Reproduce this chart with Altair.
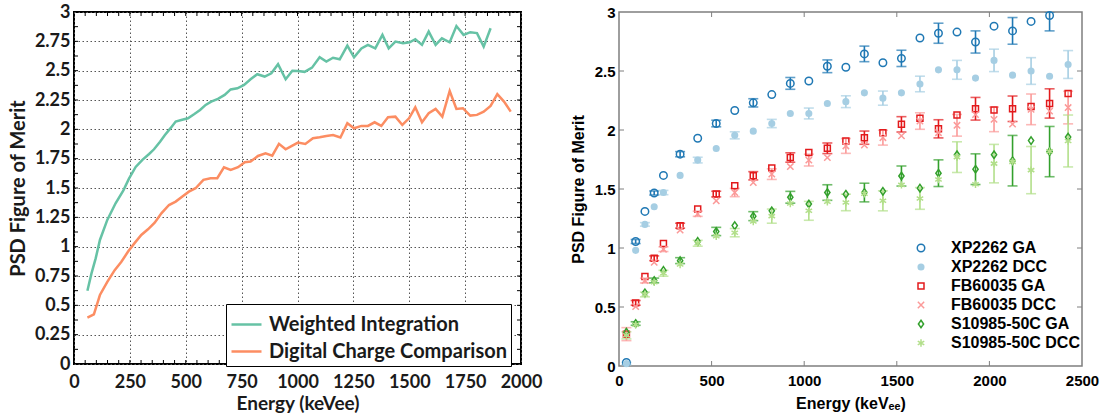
import altair as alt
import pandas as pd
import numpy as np

# ---------------- Left panel data ----------------
wi_energy = [60, 78, 97, 116, 149, 186, 221, 246, 276, 306, 336, 358, 385, 406, 432, 455, 480, 510, 537, 564,
             589, 614, 644, 674, 701, 731, 761, 790, 820, 853, 883, 913, 947, 977, 1002, 1032, 1065, 1099, 1129,
             1159, 1189, 1223, 1253, 1286, 1315, 1348, 1380, 1408, 1438, 1472, 1502, 1527, 1557, 1587, 1618, 1646,
             1681, 1711, 1743, 1773, 1803, 1833, 1864]
wi_fom = [0.625, 0.77, 0.90, 1.057, 1.228, 1.37, 1.48, 1.58, 1.68, 1.74, 1.79, 1.83, 1.895, 1.95, 2.01, 2.066,
          2.08, 2.094, 2.128, 2.165, 2.208, 2.236, 2.26, 2.293, 2.34, 2.35, 2.378, 2.427, 2.47, 2.45, 2.478, 2.555,
          2.427, 2.50, 2.498, 2.49, 2.526, 2.614, 2.577, 2.61, 2.597, 2.714, 2.614, 2.69, 2.72, 2.69, 2.805, 2.69,
          2.748, 2.734, 2.742, 2.768, 2.72, 2.833, 2.72, 2.776, 2.742, 2.88, 2.805, 2.828, 2.82, 2.705, 2.862]
dcc_energy = [60, 89, 116, 149, 182, 212, 242, 271, 301, 331, 361, 391, 425, 455, 485, 514, 544, 579, 611, 641,
              671, 701, 734, 764, 790, 823, 857, 887, 917, 947, 977, 1002, 1035, 1069, 1099, 1129, 1159, 1192, 1223,
              1253, 1286, 1315, 1345, 1375, 1405, 1438, 1469, 1499, 1527, 1557, 1587, 1618, 1648, 1681, 1711, 1740,
              1773, 1803, 1833, 1864, 1894, 1924, 1954]
dcc_fom = [0.395, 0.423, 0.588, 0.70, 0.80, 0.872, 0.958, 1.03, 1.10, 1.148, 1.205, 1.284, 1.355, 1.384, 1.427,
           1.469, 1.498, 1.569, 1.583, 1.583, 1.677, 1.654, 1.677, 1.72, 1.725, 1.773, 1.796, 1.776, 1.876, 1.83,
           1.861, 1.887, 1.876, 1.924, 1.932, 1.944, 1.952, 1.93, 2.052, 2.009, 2.029, 2.029, 2.06, 2.029, 2.103,
           2.108, 2.037, 2.094, 2.188, 2.06, 2.137, 2.174, 2.108, 2.327, 2.174, 2.18, 2.117, 2.123, 2.151, 2.20,
           2.30, 2.236, 2.151]
left_methods = ["Weighted Integration", "Digital Charge Comparison"]
left_colors = ["#66c2a5", "#fc8d62"]
left_xticks = [0, 250, 500, 750, 1000, 1250, 1500, 1750, 2000]
left_yticks = [0, 0.25, 0.5, 0.75, 1, 1.25, 1.5, 1.75, 2, 2.25, 2.5, 2.75, 3]

# ---------------- Right panel data ----------------
E = [40, 90, 140, 190, 240, 330, 425, 525, 625, 725, 825, 925, 1025, 1125, 1225, 1325, 1425, 1525, 1625, 1725,
     1825, 1925, 2025, 2125, 2225, 2325, 2425]
xp_ga = [0.03, 1.055, 1.31, 1.466, 1.615, 1.795, 1.93, 2.055, 2.165, 2.23, 2.30, 2.395, 2.415, 2.54, 2.532, 2.645,
         2.57, 2.607, 2.78, 2.82, 2.83, 2.746, 2.88, 2.84, 2.92, 2.97, None]
xp_ga_err = [None, 0.017, None, 0.017, None, 0.022, None, 0.028, None, 0.035, None, 0.05, None, 0.054, None, 0.066,
             None, 0.069, None, 0.085, None, 0.094, None, 0.113, None, 0.13, None]
xp_dcc = [0.02, 0.98, 1.20, 1.35, 1.47, 1.615, 1.745, 1.843, 1.955, 1.99, 2.055, 2.14, 2.14, 2.225, 2.24, 2.315,
          2.27, 2.315, 2.39, 2.51, 2.51, 2.44, 2.59, 2.465, 2.50, 2.456, 2.555]
xp_dcc_err = [0.01, None, 0.015, None, 0.018, None, 0.024, None, 0.03, None, 0.035, None, 0.046, None, 0.05, None,
              0.06, None, 0.066, None, 0.08, None, 0.095, None, 0.113, None, 0.118]
fb_ga = [0.27, 0.535, 0.758, 0.913, 1.039, 1.189, 1.33, 1.457, 1.527, 1.612, 1.677, 1.767, 1.81, 1.845, 1.907,
         1.935, 1.977, 2.048, 2.10, 2.01, 2.127, 2.18, 2.17, 2.18, 2.20, 2.225, 2.31]
fb_ga_err = [None, 0.02, None, 0.02, None, 0.021, None, 0.024, None, 0.035, None, 0.04, None, 0.045, None, 0.056,
             None, 0.065, None, 0.077, None, 0.096, None, 0.108, None, 0.124, None]
fb_dcc = [0.27, 0.504, 0.724, 0.879, 0.99, 1.152, 1.29, 1.40, 1.47, 1.555, 1.626, 1.69, 1.745, 1.766, 1.865,
          1.873, 1.935, 1.95, 2.076, 1.977, 2.04, 2.13, 2.09, 2.05, 2.175, 2.16, 2.19]
fb_dcc_err = [0.055, None, 0.02, None, 0.02, None, 0.022, None, 0.035, None, 0.045, None, 0.05, None, 0.063, None,
              0.063, None, 0.07, None, 0.092, None, 0.104, None, 0.13, None, 0.138]
s_ga = [0.287, 0.36, 0.62, 0.725, 0.81, 0.893, 1.056, 1.14, 1.19, 1.27, 1.315, 1.43, 1.373, 1.47, 1.456, 1.47,
        1.48, 1.61, 1.507, 1.634, 1.79, 1.668, 1.79, 1.74, 1.91, 1.817, 1.94]
s_ga_err = [None, 0.015, None, 0.02, None, 0.025, None, 0.035, None, 0.038, None, 0.05, None, 0.066, None, 0.079,
            None, 0.085, None, 0.113, None, 0.13, None, 0.214, None, 0.213, None]
s_dcc = [0.26, 0.35, 0.606, 0.71, 0.786, 0.86, 1.04, 1.10, 1.13, 1.225, 1.27, 1.377, 1.315, 1.392, 1.386, 1.46,
         1.40, 1.535, 1.42, 1.58, 1.77, 1.54, 1.715, 1.73, 1.66, 1.82, 1.907]
s_dcc_err = [0.03, None, 0.02, None, 0.025, None, 0.025, None, 0.035, None, 0.06, None, 0.08, None, 0.07, None,
             0.085, None, 0.092, None, 0.13, None, 0.163, None, 0.2, None, 0.22]

series_names = ["XP2262 GA", "XP2262 DCC", "FB60035 GA", "FB60035 DCC", "S10985-50C GA", "S10985-50C DCC"]
series_colors = ["#1f78b4", "#a6cee3", "#e31a1c", "#fb9a99", "#33a02c", "#b2df8a"]
series_fills = ["transparent", "#a6cee3", "transparent", "transparent", "transparent", "transparent"]
series_shapes = [
    "circle",
    "M0.75,0A0.75,0.75 0 1,1 -0.75,0A0.75,0.75 0 1,1 0.75,0Z",
    "M-0.8,-0.8L0.8,-0.8L0.8,0.8L-0.8,0.8Z",
    "M-0.85,-0.85L0.85,0.85M-0.85,0.85L0.85,-0.85",
    "M0,-1L0.7,0L0,1L-0.7,0Z",
    "M0,-1L0,1M-0.87,-0.5L0.87,0.5M-0.87,0.5L0.87,-0.5",
]
right_xticks = [0, 500, 1000, 1500, 2000, 2500]
right_yticks = [0, 0.5, 1, 1.5, 2, 2.5, 3]

# ---------------- Build tables ----------------
ldf = pd.concat([
    pd.DataFrame({"E": wi_energy, "v": wi_fom, "method": left_methods[0]}),
    pd.DataFrame({"E": dcc_energy, "v": dcc_fom, "method": left_methods[1]}),
])

vals = [xp_ga, xp_dcc, fb_ga, fb_dcc, s_ga, s_dcc]
errs = [xp_ga_err, xp_dcc_err, fb_ga_err, fb_dcc_err, s_ga_err, s_dcc_err]
prow, erow = [], []
for name, vv, ee in zip(series_names, vals, errs):
    for e, v, er in zip(E, vv, ee):
        if v is None:
            continue
        prow.append({"E": e, "v": v, "series": name})
        if er is not None:
            erow.append({"E": e, "v": v - er, "v2": min(v + er, 3.0), "series": name})
rdf = pd.DataFrame(prow)
edf = pd.DataFrame(erow)

# ---------------- Left panel ----------------
LW, LH = 447, 352
LFONT = "Lato"
TXT = "#1a1a1a"
xl = alt.X("E:Q", scale=alt.Scale(domain=[0, 2000], nice=False),
           axis=alt.Axis(title="Energy (keVee)", values=left_xticks, format="d", grid=True,
                         gridDash=[1.5, 2.5], gridColor="#555555", gridWidth=1, ticks=False, domain=False,
                         labelFont=LFONT, labelFontWeight="bold", labelFontSize=18, labelColor=TXT,
                         labelPadding=9, titleFont=LFONT, titleFontWeight="bold", titleFontSize=19,
                         titleColor=TXT, titlePadding=3, labelFlush=False))
yl = alt.Y("v:Q", scale=alt.Scale(domain=[0, 3], nice=False),
           axis=alt.Axis(title="PSD Figure of Merit", values=left_yticks, format=".2~f", grid=True,
                         gridDash=[1.5, 2.5], gridColor="#555555", gridWidth=1, ticks=False, domain=False,
                         labelFont=LFONT, labelFontWeight="bold", labelFontSize=18, labelColor=TXT,
                         labelPadding=4, titleFont=LFONT, titleFontWeight="bold", titleFontSize=20,
                         titleColor=TXT, titlePadding=6))

lines = alt.Chart(ldf).mark_line(strokeWidth=2.5).encode(
    x=xl, y=yl,
    color=alt.Color("method:N", scale=alt.Scale(domain=left_methods, range=left_colors),
                    legend=alt.Legend(title=None, orient="none", legendX=152, legendY=292,
                                      strokeColor="black", fillColor="white", padding=4,
                                      symbolType="stroke", symbolSize=900, symbolStrokeWidth=2.5,
                                      labelFont=LFONT, labelFontWeight="bold", labelFontSize=20,
                                      labelColor=TXT, labelOffset=6, rowPadding=-3, labelLimit=400)),
)

lx_minor = pd.DataFrame({"E": np.arange(50, 2000, 50)})
ly_minor = pd.DataFrame({"v": np.arange(0.125, 3.0, 0.125)})
tick_l = [
    alt.Chart(lx_minor).mark_rule(color="black", strokeWidth=1).encode(x=xl, y=alt.value(0), y2=alt.value(4)),
    alt.Chart(lx_minor).mark_rule(color="black", strokeWidth=1).encode(x=xl, y=alt.value(LH), y2=alt.value(LH - 4)),
    alt.Chart(ly_minor).mark_rule(color="black", strokeWidth=1).encode(y=yl, x=alt.value(0), x2=alt.value(4)),
    alt.Chart(ly_minor).mark_rule(color="black", strokeWidth=1).encode(y=yl, x=alt.value(LW), x2=alt.value(LW - 4)),
]
left = alt.layer(*tick_l, lines).properties(
    width=LW, height=LH, view=alt.ViewBackground(stroke="black", strokeWidth=2))

# ---------------- Right panel ----------------
RW, RH = 463, 354
RFONT = "Liberation Sans"
xr = alt.X("E:Q", scale=alt.Scale(domain=[0, 2500], nice=False),
           axis=alt.Axis(title="Energy (keVₑₑ)", values=right_xticks, format="d", grid=False, ticks=False,
                         domain=False, labelFont=RFONT, labelFontWeight="bold", labelFontSize=15,
                         labelColor="black", labelPadding=7, titleFont=RFONT, titleFontWeight="bold",
                         titleFontSize=16, titleColor="black", titlePadding=7, labelFlush=False))
yr = alt.Y("v:Q", scale=alt.Scale(domain=[0, 3], nice=False),
           axis=alt.Axis(title="PSD Figure of Merit", values=right_yticks, format="~g", grid=False, ticks=False,
                         domain=False, labelFont=RFONT, labelFontWeight="bold", labelFontSize=15,
                         labelColor="black", labelPadding=4, titleFont=RFONT, titleFontWeight="bold",
                         titleFontSize=16, titleColor="black", titlePadding=8))

leg = dict(title=None, orient="none", legendX=839, legendY=228, padding=0, labelFont=RFONT,
           labelFontWeight="bold", labelFontSize=16, labelColor="black", labelOffset=22, rowPadding=3,
           symbolStrokeWidth=1.5, symbolSize=56, labelLimit=400)

ebars = alt.Chart(edf).mark_errorbar(ticks={"size": 10}, thickness=1.6, clip=True).encode(
    x=xr, y=yr, y2="v2:Q",
    color=alt.Color("series:N", scale=alt.Scale(domain=series_names, range=series_colors), legend=None),
)
points = alt.Chart(rdf).mark_point(size=56, strokeWidth=1.5, opacity=1).encode(
    x=xr, y=yr,
    shape=alt.Shape("series:N", scale=alt.Scale(domain=series_names, range=series_shapes), legend=alt.Legend(**leg)),
    stroke=alt.Stroke("series:N", scale=alt.Scale(domain=series_names, range=series_colors), legend=alt.Legend(**leg)),
    fill=alt.Fill("series:N", scale=alt.Scale(domain=series_names, range=series_fills), legend=alt.Legend(**leg)),
)

rx_t = pd.DataFrame({"E": [500, 1000, 1500, 2000]})
ry_t = pd.DataFrame({"v": [0.5, 1, 1.5, 2, 2.5]})
GR = "#7f7f7f"
tick_r = [
    alt.Chart(rx_t).mark_rule(color=GR, strokeWidth=1).encode(x=xr, y=alt.value(0), y2=alt.value(5)),
    alt.Chart(rx_t).mark_rule(color=GR, strokeWidth=1).encode(x=xr, y=alt.value(RH), y2=alt.value(RH - 5)),
    alt.Chart(ry_t).mark_rule(color=GR, strokeWidth=1).encode(y=yr, x=alt.value(0), x2=alt.value(5)),
    alt.Chart(ry_t).mark_rule(color=GR, strokeWidth=1).encode(y=yr, x=alt.value(RW), x2=alt.value(RW - 5)),
]
right = alt.layer(*tick_r, ebars, points).properties(
    width=RW, height=RH, view=alt.ViewBackground(stroke=GR, strokeWidth=1.5))

chart = alt.hconcat(left, right, spacing=26).properties(
    padding={"left": 7, "top": 2, "right": 4, "bottom": 0}, background="white"
).resolve_scale(color="independent", x="independent", y="independent")

chart.save("out.html", embed_options={"renderer": "svg", "actions": False})
